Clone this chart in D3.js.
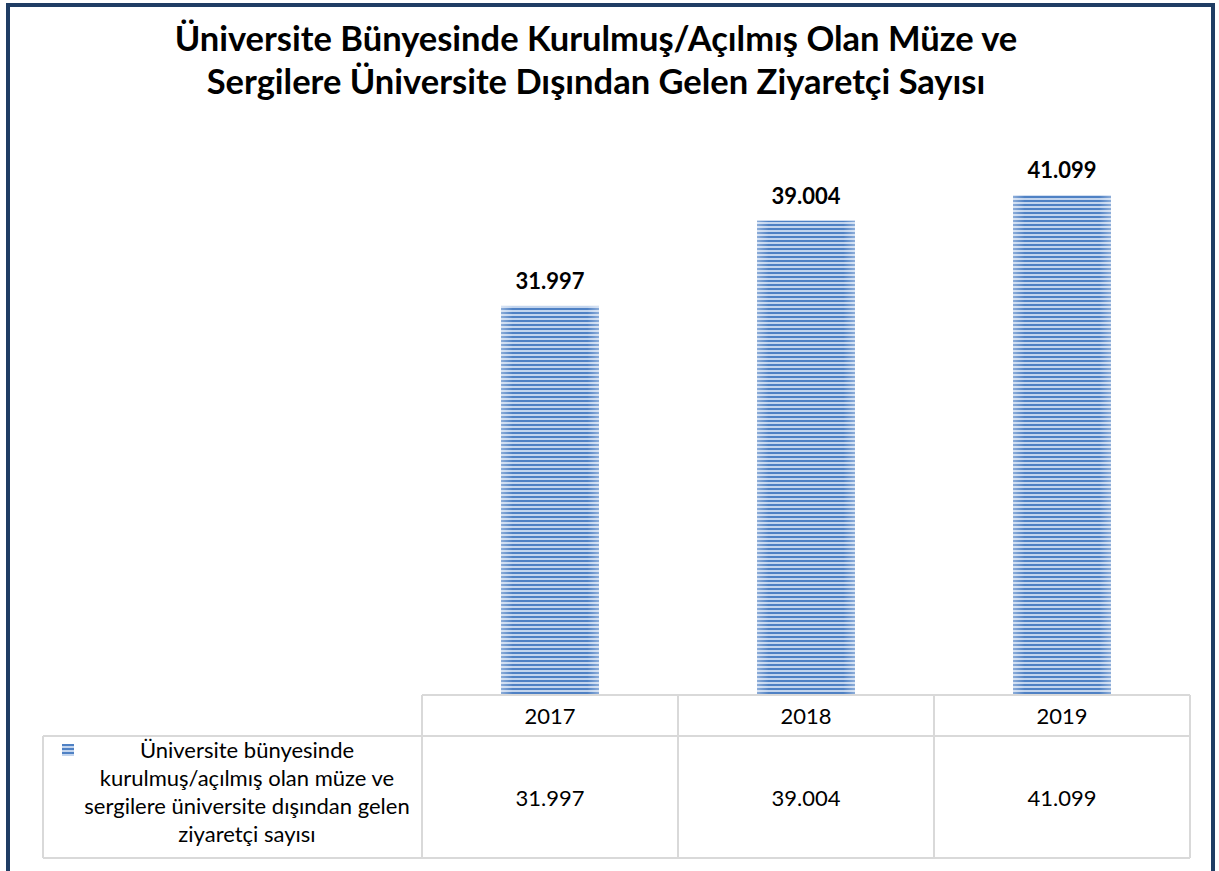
<!DOCTYPE html>
<html>
<head>
<meta charset="utf-8">
<script src="https://cdn.jsdelivr.net/npm/d3@7"></script>
<style>
  body { margin: 0; background: #fff; }
  svg { display: block; }
</style>
</head>
<body>
<script>
// chart data
const years = ['2017', '2018', '2019'];
const visitors = [31997, 39004, 41099];
const titleLines = [
  'Üniversite Bünyesinde Kurulmuş/Açılmış Olan Müze ve',
  'Sergilere Üniversite Dışından Gelen Ziyaretçi Sayısı'
];
const seriesLabel = [
  'Üniversite bünyesinde',
  'kurulmuş/açılmış olan müze ve',
  'sergilere üniversite dışından gelen',
  'ziyaretçi sayısı'
];

const W = 1219, H = 871;
const fmt = v => d3.format(',')(v).replace(/,/g, '.');

const svg = d3.select('body').append('svg')
  .attr('width', W)
  .attr('height', H);

// striped fill like the office chart
const defs = svg.append('defs');
const pat = defs.append('pattern')
  .attr('id', 'stripes')
  .attr('patternUnits', 'userSpaceOnUse')
  .attr('width', 8).attr('height', 4);
pat.append('rect').attr('width', 8).attr('height', 4).attr('fill', '#c3d5ee');
pat.append('rect').attr('y', 0).attr('width', 8).attr('height', 2).attr('fill', '#4f81c4');

const shade = defs.append('linearGradient').attr('id', 'shade');
shade.append('stop').attr('offset', '0%').attr('stop-color', '#fff').attr('stop-opacity', 0.35);
shade.append('stop').attr('offset', '12%').attr('stop-color', '#fff').attr('stop-opacity', 0);
shade.append('stop').attr('offset', '88%').attr('stop-color', '#fff').attr('stop-opacity', 0);
shade.append('stop').attr('offset', '100%').attr('stop-color', '#fff').attr('stop-opacity', 0.35);

// outer frame
svg.append('rect')
  .attr('x', 8).attr('y', 5)
  .attr('width', W - 14).attr('height', H + 20)
  .attr('fill', 'none')
  .attr('stroke', '#1f3d64')
  .attr('stroke-width', 4);

const font = 'Lato, "Open Sans", sans-serif';

// title
svg.append('g').selectAll('text')
  .data(titleLines)
  .join('text')
    .attr('x', 596)
    .attr('y', (d, i) => 51 + i * 43)
    .attr('text-anchor', 'middle')
    .attr('font-family', font)
    .attr('font-weight', 'bold')
    .attr('font-size', 34.5)
    .attr('fill', '#000')
    .text(d => d);

// table geometry
const tableLeft = 43, colLeft = 422, tableRight = 1190;
const headTop = 695, headBottom = 736, rowBottom = 858;

const x = d3.scaleBand()
  .domain(years)
  .range([colLeft, tableRight])
  .paddingInner(0)
  .paddingOuter(0);

const y = d3.scaleLinear()
  .domain([0, 50000])
  .range([headTop, 87]);

const barW = 98;

// bars
const bars = svg.append('g');
bars.selectAll('rect.bar')
  .data(visitors)
  .join('rect')
    .attr('class', 'bar')
    .attr('x', (d, i) => x(years[i]) + x.bandwidth() / 2 - barW / 2)
    .attr('y', d => y(d))
    .attr('width', barW)
    .attr('height', d => y(0) - y(d))
    .attr('fill', 'url(#stripes)');
bars.selectAll('rect.shade')
  .data(visitors)
  .join('rect')
    .attr('class', 'shade')
    .attr('x', (d, i) => x(years[i]) + x.bandwidth() / 2 - barW / 2)
    .attr('y', d => y(d))
    .attr('width', barW)
    .attr('height', d => y(0) - y(d))
    .attr('fill', 'url(#shade)');

// data labels
bars.selectAll('text')
  .data(visitors)
  .join('text')
    .attr('x', (d, i) => x(years[i]) + x.bandwidth() / 2)
    .attr('y', d => y(d) - 17)
    .attr('text-anchor', 'middle')
    .attr('font-family', font)
    .attr('font-weight', 'bold')
    .attr('font-size', 22)
    .text(d => fmt(d));

// data table
const grid = svg.append('g')
  .attr('stroke', '#d9d9d9')
  .attr('stroke-width', 2)
  .attr('fill', 'none');

grid.append('line').attr('x1', colLeft).attr('x2', tableRight).attr('y1', headTop).attr('y2', headTop);
grid.append('line').attr('x1', tableLeft).attr('x2', tableRight).attr('y1', headBottom).attr('y2', headBottom);
grid.append('line').attr('x1', tableLeft).attr('x2', tableRight).attr('y1', rowBottom).attr('y2', rowBottom);
grid.append('line').attr('x1', tableLeft).attr('x2', tableLeft).attr('y1', headBottom).attr('y2', rowBottom);
grid.selectAll('line.col')
  .data(years.concat(['end']))
  .join('line')
    .attr('class', 'col')
    .attr('x1', (d, i) => colLeft + i * x.bandwidth())
    .attr('x2', (d, i) => colLeft + i * x.bandwidth())
    .attr('y1', headTop)
    .attr('y2', rowBottom);

svg.append('g').selectAll('text')
  .data(years)
  .join('text')
    .attr('x', d => x(d) + x.bandwidth() / 2)
    .attr('y', 724)
    .attr('text-anchor', 'middle')
    .attr('font-family', font)
    .attr('font-size', 22)
    .text(d => d);

svg.append('g').selectAll('text')
  .data(visitors)
  .join('text')
    .attr('x', (d, i) => x(years[i]) + x.bandwidth() / 2)
    .attr('y', 806)
    .attr('text-anchor', 'middle')
    .attr('font-family', font)
    .attr('font-size', 22)
    .text(d => fmt(d));

// legend key + series name
svg.append('rect')
  .attr('x', 62).attr('y', 744)
  .attr('width', 12).attr('height', 12)
  .attr('fill', 'url(#stripes)');

svg.append('g').selectAll('text')
  .data(seriesLabel)
  .join('text')
    .attr('x', 247)
    .attr('y', (d, i) => 758 + i * 28)
    .attr('text-anchor', 'middle')
    .attr('font-family', font)
    .attr('font-size', 22)
    .text(d => d);
</script>
</body>
</html>
